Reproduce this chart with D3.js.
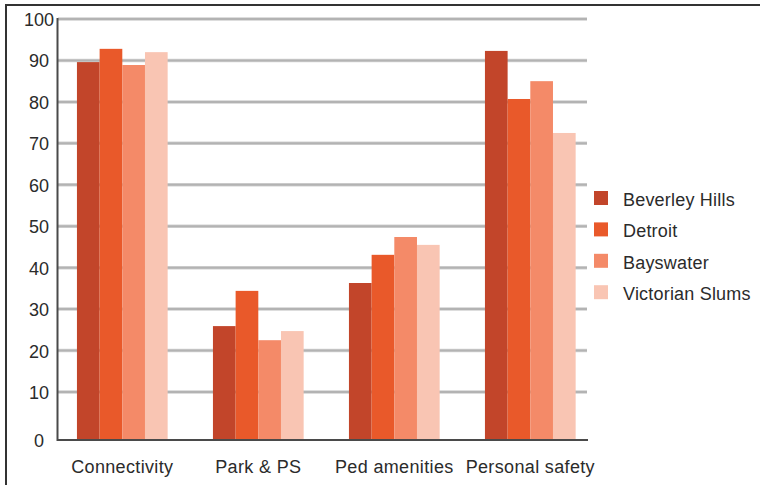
<!DOCTYPE html>
<html>
<head>
<meta charset="utf-8">
<script src="https://cdn.jsdelivr.net/npm/d3@7"></script>
<style>
  html, body { margin: 0; padding: 0; background: #fff; }
  svg { display: block; }
  text { font-family: "Liberation Sans", Arial, Helvetica, sans-serif; fill: #2b2b2b; }
</style>
</head>
<body>
<svg id="chart" width="760" height="485"></svg>
<script>
// Scores by neighbourhood across four walkability measures
const categories = ["Connectivity", "Park & PS", "Ped amenities", "Personal safety"];
const seriesNames = ["Beverley Hills", "Detroit", "Bayswater", "Victorian Slums"];
const beverleyHills = [89.6, 25.9, 36.3, 92.3];
const detroit = [92.8, 34.4, 43.1, 80.7];
const bayswater = [88.9, 22.5, 47.4, 85.0];
const victorianSlums = [92.0, 24.7, 45.5, 72.5];
const tickValues = [0, 10, 20, 30, 40, 50, 60, 70, 80, 90, 100];
const colors = ["#c2452a", "#e9592a", "#f48a68", "#f9c5b3"];

const series = [beverleyHills, detroit, bayswater, victorianSlums];

const svg = d3.select("#chart");

// Outer frame (left and top edges)
svg.append("path")
  .attr("d", "M6,485 V5 H760")
  .attr("fill", "none")
  .attr("stroke", "#333")
  .attr("stroke-width", 2);

const plotLeft = 58, plotRight = 587, baseY = 440;

// value axis: the zero baseline sits a little below the evenly spaced grid
const y = d3.scaleLinear().domain([0, 10, 100]).range([baseY, 392, 19]);

const x0 = d3.scaleBand().domain(categories)
  .range([54.3, 598.3]).paddingInner(0.333).paddingOuter(0.1665);
const x1 = d3.scaleBand().domain(d3.range(seriesNames.length))
  .range([0, x0.bandwidth()]);

// grid lines
const grid = svg.append("g");
const gridTicks = tickValues.filter(v => v > 0);
grid.selectAll("line.halo").data(gridTicks).join("line")
  .attr("class", "halo")
  .attr("x1", plotLeft).attr("x2", plotRight)
  .attr("y1", d => y(d)).attr("y2", d => y(d))
  .attr("stroke", "#d2d2d2").attr("stroke-width", 3.5);
grid.selectAll("line.core").data(gridTicks).join("line")
  .attr("class", "core")
  .attr("x1", plotLeft).attr("x2", plotRight)
  .attr("y1", d => y(d)).attr("y2", d => y(d))
  .attr("stroke", "#b3b3b3").attr("stroke-width", 2);

// bars
const groups = svg.append("g").selectAll("g").data(categories).join("g")
  .attr("transform", c => `translate(${x0(c)},0)`);
groups.selectAll("rect")
  .data((c, ci) => series.map((s, si) => ({ si, v: s[ci] })))
  .join("rect")
  .attr("x", d => x1(d.si))
  .attr("width", x1.bandwidth())
  .attr("y", d => y(d.v))
  .attr("height", d => baseY - y(d.v))
  .attr("fill", d => colors[d.si]);

// axes lines
svg.append("line")
  .attr("x1", 57.5).attr("x2", 57.5).attr("y1", 18).attr("y2", baseY + 1)
  .attr("stroke", "#4a4a4a").attr("stroke-width", 2);
svg.append("line")
  .attr("x1", 57).attr("x2", 588).attr("y1", baseY).attr("y2", baseY)
  .attr("stroke", "#4a4a4a").attr("stroke-width", 2);

// y tick labels
const yAxis = d3.axisLeft(y).tickValues(tickValues).tickSize(0).tickPadding(0);
const yg = svg.append("g").attr("transform", "translate(39,0)").call(yAxis);
yg.select(".domain").remove();
yg.selectAll("text")
  .attr("text-anchor", "middle")
  .attr("x", 0)
  .attr("dy", "0.36em")
  .style("font-size", "18px")
  .style("font-family", "'Liberation Sans', Arial, sans-serif")
  .attr("fill", "#2b2b2b");

// category labels
const xAxis = d3.axisBottom(x0).tickSize(0).tickPadding(0);
const xg = svg.append("g").attr("transform", "translate(0,467)").call(xAxis);
xg.select(".domain").remove();
xg.selectAll("text")
  .attr("y", 0)
  .attr("dy", "0.36em")
  .style("font-size", "18px")
  .style("font-family", "'Liberation Sans', Arial, sans-serif")
  .style("letter-spacing", "0.35px")
  .attr("fill", "#2b2b2b");

// legend
const legend = svg.append("g").attr("transform", "translate(594,191)");
const rows = legend.selectAll("g").data(seriesNames).join("g")
  .attr("transform", (d, i) => `translate(0,${i * 31.4})`);
rows.append("rect")
  .attr("width", 14).attr("height", 14)
  .attr("fill", (d, i) => colors[i]);
rows.append("text")
  .attr("x", 29).attr("y", 15)
  .style("font-size", "18px")
  .style("letter-spacing", "0.2px")
  .text(d => d);
</script>
</body>
</html>
